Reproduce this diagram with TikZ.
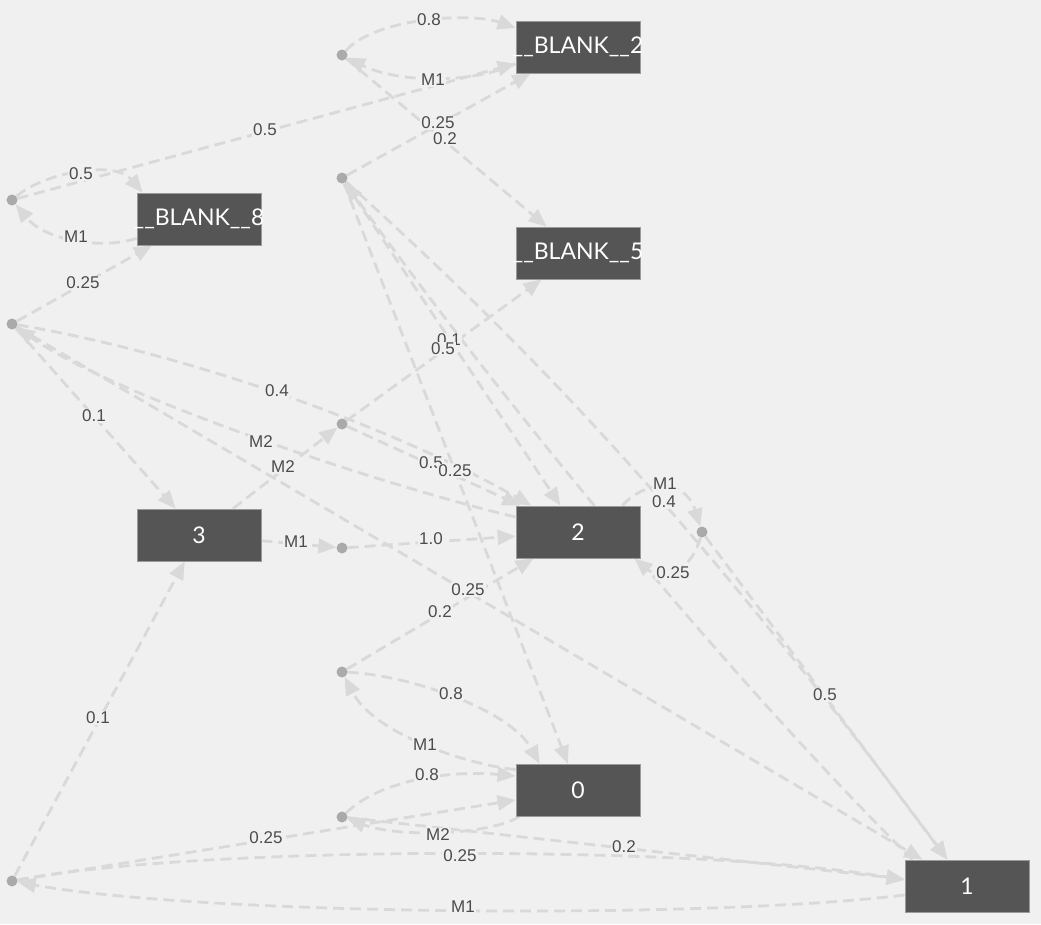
\documentclass[tikz,border=0pt]{standalone}
\usepackage{fontspec}
\setmainfont{Liberation Sans}
\newfontfamily\latofont{Lato}
\usetikzlibrary{arrows.meta,calc}
\definecolor{bgc}{HTML}{F0F0F0}
\definecolor{edgec}{HTML}{D9D9D9}
\definecolor{boxc}{HTML}{555555}
\definecolor{boxline}{HTML}{9A9A9A}
\definecolor{dotc}{HTML}{AAAAAA}
\definecolor{lblc}{HTML}{4C4C4C}
\pgfdeclarelayer{bglayer}
\pgfdeclarelayer{edgelayer}
\pgfdeclarelayer{lbllayer}
\pgfsetlayers{bglayer,edgelayer,lbllayer,main}
\begin{document}
\begin{tikzpicture}[x=1pt,y=-1pt,
  st/.style={rectangle, fill=boxc, draw=boxline, line width=0.8pt, minimum width=124pt, minimum height=52pt, inner sep=0pt, text=white, font=\latofont\fontsize{23}{23}\selectfont},
  act/.style={circle, fill=dotc, minimum size=11pt, inner sep=0pt},
  tr/.style={draw=edgec, line width=2.8pt, dash pattern=on 11pt off 6pt, -{Triangle[length=18pt,width=15pt]}},
  lbl/.style={fill=bgc, text=lblc, inner sep=1pt, font=\fontsize{17}{17}\selectfont}
]
\useasboundingbox (0,0) rectangle (1041,924);
\begin{pgfonlayer}{bglayer}
\fill[bgc] (0,0) rectangle (1041,924);
\end{pgfonlayer}

% states
\node[st] (b2) at (578,47) {\makebox[0pt]{\raisebox{-2pt}{\_\_BLANK\_\_2}}};
\node[st] (b8) at (199,219) {\makebox[0pt]{\raisebox{-2pt}{\_\_BLANK\_\_8}}};
\node[st] (b5) at (578,253) {\makebox[0pt]{\raisebox{-2pt}{\_\_BLANK\_\_5}}};
\node[st] (s3) at (199,535) {3};
\node[st] (s2) at (578,532) {2};
\node[st] (s0) at (578,790) {0};
\node[st] (s1) at (967,886) {1};

% action points
\node[act] (d1) at (342,55) {};
\node[act] (d2) at (342,178) {};
\node[act] (d3) at (12,200) {};
\node[act] (d4) at (12,324) {};
\node[act] (d5) at (342,424) {};
\node[act] (d6) at (342,548) {};
\node[act] (d7) at (702,532) {};
\node[act] (d8) at (342,672) {};
\node[act] (d9) at (342,817) {};
\node[act] (d10) at (12,881) {};

\begin{pgfonlayer}{edgelayer}
\draw[tr] (d1) .. controls (375,18) and (470,12) .. (b2.163);
\draw[tr] (b2.195) .. controls (470,85) and (395,82) .. (d1);
\draw[tr] (d1) -- (b5);
\draw[tr] (d2) -- (b2);
\draw[tr] (d3) -- (b2);
\draw[tr] (d3) .. controls (45,172) and (115,160) .. ($(b8.north west)+(6,0)$);
\draw[tr] ($(b8.south west)+(0,-7)$) .. controls (100,250) and (45,240) .. (d3);
\draw[tr] (d4) -- (b8);
\draw[tr] (d4) -- (s3);
\draw[tr] ($(s2.west)+(0,-15)$) .. controls (400,490) and (120,400) .. (d4);
\draw[tr] (d4) .. controls (170,350) and (380,420) .. (s2);
\draw[tr] (d4) -- (s1);
\draw[tr] (s3) -- (d5);
\draw[tr] (d5) -- (b5);
\draw[tr] (d5) -- (s2);
\draw[tr] (s3) -- (d6);
\draw[tr] (d6) -- (s2);
\draw[tr] (d2) -- (s2);
\draw[tr] (d2) -- (s0);
\draw[tr] ($(s1.north west)+(8,0)$) .. controls (740,690) and (500,400) .. (d2);
\draw[tr] (d2) .. controls (520,340) and (680,500) .. (s1);
\draw[tr] ($(s2.north east)+(-18,0)$) .. controls (645,480) and (685,478) .. (d7);
\draw[tr] (d7) .. controls (690,575) and (660,580) .. ($(s2.south east)+(-6,0)$);
\draw[tr] (d7) -- (s1);
\draw[tr] (d8) -- (s2);
\draw[tr] ($(s0.north west)+(0,6)$) .. controls (470,765) and (375,735) .. (d8);
\draw[tr] (d8) .. controls (410,675) and (510,710) .. ($(s0.north west)+(24,0)$);
\draw[tr] (d9) .. controls (380,780) and (450,770) .. ($(s0.west)+(0,-14)$);
\draw[tr] ($(s0.south west)+(4,0)$) .. controls (490,835) and (400,838) .. (d9);
\draw[tr] (d9) -- (s1);
\draw[tr] (d10) -- (s0);
\draw[tr] (d10) -- (s3);
\draw[tr] (d10) .. controls (200,845) and (700,845) .. ($(s1.west)+(0,-6)$);
\draw[tr] ($(s1.west)+(0,9)$) .. controls (700,920) and (200,915) .. (d10);
\end{pgfonlayer}

\begin{pgfonlayer}{lbllayer}
\node[lbl] (l01) at (429,20) {0.8};
\node[lbl] (l02) at (433,80) {M1};
\node[lbl] (l03) at (438,123) {0.25};
\node[lbl] (l04) at (445,139) {0.2};
\node[lbl] (l05) at (265,130) {0.5};
\node[lbl] (l06) at (81,174) {0.5};
\node[lbl] (l07) at (76,237) {M1};
\node[lbl] (l08) at (83,283) {0.25};
\node[lbl] (l09) at (449,340) {0.1};
\node[lbl] (l10) at (443,349) {0.5};
\node[lbl] (l11) at (277,391) {0.4};
\node[lbl] (l12) at (94,416) {0.1};
\node[lbl] (l13) at (261,442) {M2};
\node[lbl] (l14) at (283,467) {M2};
\node[lbl] (l15) at (431,463) {0.5};
\node[lbl] (l16) at (455,471) {0.25};
\node[lbl] (l17) at (665,484) {M1};
\node[lbl] (l18) at (664,502) {0.4};
\node[lbl] (l19) at (296,542) {M1};
\node[lbl] (l20) at (431,539) {1.0};
\node[lbl] (l21) at (673,573) {0.25};
\node[lbl] (l22) at (468,590) {0.25};
\node[lbl] (l23) at (440,612) {0.2};
\node[lbl] (l24) at (451,694) {0.8};
\node[lbl] (l25) at (825,695) {0.5};
\node[lbl] (l26) at (98,718) {0.1};
\node[lbl] (l27) at (425,745) {M1};
\node[lbl] (l28) at (427,775) {0.8};
\node[lbl] (l29) at (438,835) {M2};
\node[lbl] (l30) at (266,838) {0.25};
\node[lbl] (l31) at (624,847) {0.2};
\node[lbl] (l32) at (460,856) {0.25};
\node[lbl] (l33) at (463,907) {M1};
\end{pgfonlayer}
\end{tikzpicture}
\end{document}
